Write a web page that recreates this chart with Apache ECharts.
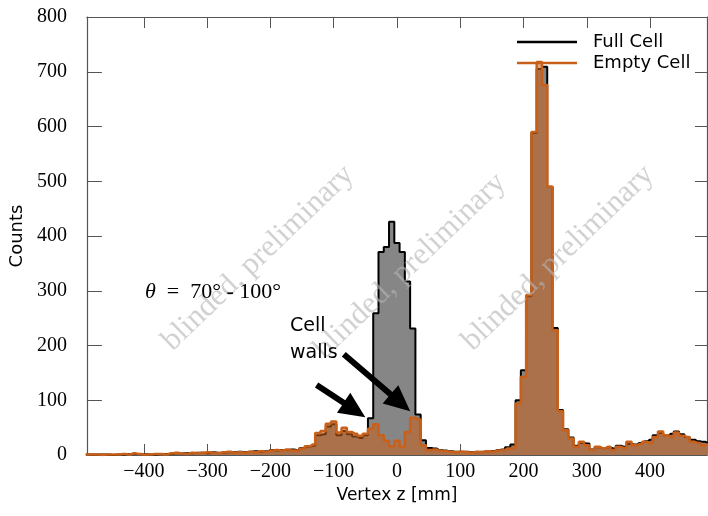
<!DOCTYPE html>
<html>
<head>
<meta charset="utf-8">
<script src="https://cdn.jsdelivr.net/npm/echarts@6/dist/echarts.min.js"></script>
<style>
  html, body { margin: 0; padding: 0; background: #fff; }
  #chart { width: 708px; height: 516px; }
</style>
</head>
<body>
<div id="chart"></div>
<script>
// Histogram binning: 119 bins of 25/3 mm, centred on multiples of the bin width
const binWidth = 25 / 3;
const firstBinIndex = -59;

// Counts per bin, from z = -491.7 mm to z = +491.7 mm
const fullCell = [
  1,1,1,1,1,0,1,1,2,
  2,2,2,1,1,2,2,2,3,3,
  3,3,4,4,3,5,4,4,5,5,
  6,5,6,7,6,7,9,8,9,9,
  10,9,13,15,17,36,38,52,56,36,
  44,38,34,31,36,67,259,371,380,426,
  387,371,317,231,74,27,13,12,9,8,
  7,6,6,6,5,5,6,7,7,9,
  10,14,19,100,155,290,588,705,709,490,
  232,82,47,32,17,22,21,10,14,12,
  14,12,17,15,20,19,22,25,28,36,
  40,36,39,43,38,33,28,25,24,22
];
const emptyCell = [
  1,1,1,0,1,1,1,2,1,
  3,2,1,1,2,2,1,3,4,3,
  2,4,3,4,5,4,3,5,6,4,
  5,4,6,5,7,6,8,9,8,10,
  8,8,12,16,19,40,44,57,61,41,
  50,42,39,35,39,48,56,36,26,16,
  26,15,42,68,65,18,9,10,8,7,
  6,5,6,5,4,6,5,7,6,8,
  9,12,13,94,143,292,590,718,676,490,
  228,80,45,30,15,24,18,9,15,12,
  15,9,15,13,24,18,20,24,22,33,
  43,36,33,41,35,33,24,22,18,20
];

const seriesNames = ['Full Cell', 'Empty Cell'];
const xRange = [-490, 490];
const yRange = [0, 800];
const watermark = 'blinded, preliminary';
const angleLabel = '70° - 100°';

// Annotation arrows in data coordinates: [tail, tip]
const wallArrows = [
  [[-127, 128], [-50, 69]],
  [[-84, 184], [21, 80]]
];

function binCenter(i) { return (firstBinIndex + i) * binWidth; }
const fullData = fullCell.map((v, i) => [binCenter(i), v]);
const emptyData = emptyCell.map((v, i) => [binCenter(i), v]);

const axisColor = '#555';
const serif = 'Liberation Serif';
const sans = 'DejaVu Sans';

const chart = echarts.init(document.getElementById('chart'), null, { renderer: 'canvas' });

chart.setOption({
  animation: false,
  backgroundColor: '#fff',
  grid: { left: 84, right: 1, top: 17, bottom: 61, containLabel: false },
  legend: {
    orient: 'vertical',
    left: 512,
    top: 28,
    icon: 'rect',
    itemWidth: 60,
    itemHeight: 2.5,
    itemGap: 3,
    data: [
      { name: seriesNames[0], itemStyle: { color: '#000' } },
      { name: seriesNames[1], itemStyle: { color: '#c8601a' } }
    ],
    textStyle: { fontFamily: sans, fontSize: 18, color: '#000', lineHeight: 16, padding: [0, 0, 0, 11] }
  },
  xAxis: [{
    type: 'value',
    min: xRange[0], max: xRange[1],
    splitNumber: 10,
    name: 'Vertex z [mm]',
    nameLocation: 'middle',
    nameGap: 31,
    nameTextStyle: { fontFamily: sans, fontSize: 17, color: '#000' },
    axisLine: { show: true, onZero: false, lineStyle: { color: axisColor, width: 1.2 } },
    axisTick: { show: true, inside: true, length: 11, lineStyle: { color: axisColor } },
    splitLine: { show: false },
    axisLabel: {
      fontFamily: serif, fontSize: 20, color: '#000', margin: 7,
      showMinLabel: false, showMaxLabel: false,
      formatter: v => String(v).replace('-', '\u2212')
    }
  }, {
    type: 'value',
    position: 'top',
    min: xRange[0], max: xRange[1],
    splitNumber: 10,
    axisLine: { show: true, onZero: false, lineStyle: { color: axisColor, width: 1.2 } },
    axisTick: { show: true, inside: true, length: 11, lineStyle: { color: axisColor } },
    axisLabel: { show: false },
    splitLine: { show: false }
  }],
  yAxis: [{
    type: 'value',
    min: yRange[0], max: yRange[1], interval: 100,
    name: 'Counts',
    nameLocation: 'middle',
    nameGap: 55,
    nameTextStyle: { fontFamily: sans, fontSize: 18, color: '#000' },
    axisLine: { show: true, onZero: false, lineStyle: { color: axisColor, width: 1.2 } },
    axisTick: { show: true, inside: true, length: 15, lineStyle: { color: axisColor } },
    splitLine: { show: false },
    axisLabel: { fontFamily: serif, fontSize: 20, color: '#000', margin: 20 }
  }, {
    type: 'value',
    position: 'right',
    min: yRange[0], max: yRange[1], interval: 100,
    axisLine: { show: true, onZero: false, lineStyle: { color: axisColor, width: 1.2 } },
    axisTick: { show: true, inside: true, length: 12, lineStyle: { color: axisColor } },
    axisLabel: { show: false },
    splitLine: { show: false }
  }],
  series: [{
    name: seriesNames[0],
    type: 'line',
    step: 'middle',
    data: fullData,
    symbol: 'none',
    clip: true,
    z: 2,
    itemStyle: { color: '#000' },
    lineStyle: { color: '#000', width: 2 },
    areaStyle: { color: '#868686', opacity: 1, origin: 0 }
  }, {
    name: seriesNames[1],
    type: 'line',
    step: 'middle',
    data: emptyData,
    symbol: 'none',
    clip: true,
    z: 3,
    itemStyle: { color: '#c8601a' },
    lineStyle: { color: '#c8601a', width: 2.5 },
    areaStyle: { color: 'rgba(200,96,26,0.55)', opacity: 1, origin: 0 }
  }]
});

// Arrow polygon from tail to tip, in pixels
function arrowPoints(t, p) {
  const dx = p[0] - t[0], dy = p[1] - t[1];
  const len = Math.sqrt(dx * dx + dy * dy);
  const ux = dx / len, uy = dy / len;
  const nx = -uy, ny = ux;
  const headLen = 26, headHalf = 12, shaftHalf = 3;
  const bx = p[0] - ux * headLen, by = p[1] - uy * headLen;
  return [
    [t[0] + nx * shaftHalf, t[1] + ny * shaftHalf],
    [bx + nx * shaftHalf, by + ny * shaftHalf],
    [bx + nx * headHalf, by + ny * headHalf],
    [p[0], p[1]],
    [bx - nx * headHalf, by - ny * headHalf],
    [bx - nx * shaftHalf, by - ny * shaftHalf],
    [t[0] - nx * shaftHalf, t[1] - ny * shaftHalf]
  ];
}

const toPx = pt => chart.convertToPixel({ xAxisIndex: 0, yAxisIndex: 0 }, pt);

const graphics = [];
// Diagonal watermark texts
[[258, 258], [410, 266], [558, 258]].forEach(c => {
  graphics.push({
    type: 'text',
    x: c[0], y: c[1],
    rotation: Math.PI / 4 - 0.02,
    z: 50,
    silent: true,
    style: {
      text: watermark,
      fontFamily: serif,
      fontSize: 31,
      fill: 'rgba(180,180,180,0.62)',
      align: 'center',
      verticalAlign: 'middle'
    }
  });
});
// Polar angle range
graphics.push({
  type: 'text', x: 145, y: 292, z: 60,
  style: {
    text: '{t|θ}  =  ' + angleLabel,
    fontFamily: serif, fontSize: 22, fill: '#000', verticalAlign: 'middle',
    rich: { t: { fontFamily: serif, fontStyle: 'italic', fontSize: 22, fill: '#000' } }
  }
});
// Wall annotation
graphics.push({
  type: 'text', x: 290, y: 340, z: 60,
  style: { text: 'Cell\nwalls', fontFamily: sans, fontSize: 19, lineHeight: 27, fill: '#000', verticalAlign: 'middle' }
});
wallArrows.forEach(a => {
  graphics.push({
    type: 'polygon', z: 60,
    shape: { points: arrowPoints(toPx(a[0]), toPx(a[1])) },
    style: { fill: '#000' }
  });
});
chart.setOption({ graphic: graphics });
</script>
</body>
</html>
